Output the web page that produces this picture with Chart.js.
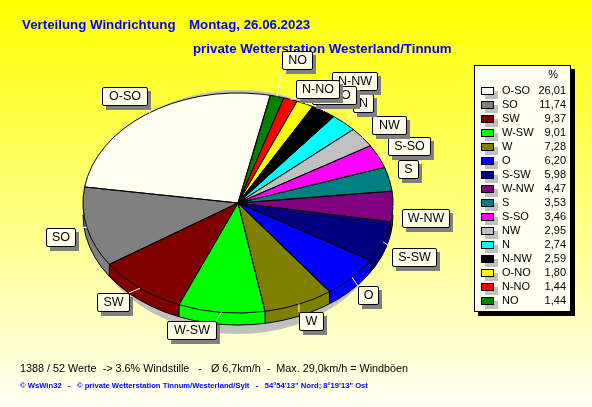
<!DOCTYPE html>
<html>
<head>
<meta charset="utf-8">
<title>Verteilung Windrichtung</title>
<script src="https://cdn.jsdelivr.net/npm/chart.js@4"></script>
<style>
    html, body { margin: 0; padding: 0; }
    body { width: 592px; height: 407px; overflow: hidden; background: linear-gradient(180deg, #ffff00 0%, #fffff5 100%); }
    canvas { display: block; }
</style>
</head>
<body>
<canvas id="myChart" width="592" height="407"></canvas>
<script>
// values as in the legend, largest first
const directions = ['O-SO', 'SO', 'SW', 'W-SW', 'W', 'O', 'S-SW', 'W-NW', 'S', 'S-SO', 'NW', 'N', 'N-NW', 'O-NO', 'N-NO', 'NO'];
const percents = [26.01, 11.74, 9.37, 9.01, 7.28, 6.20, 5.98, 4.47, 3.53, 3.46, 2.95, 2.74, 2.59, 1.80, 1.44, 1.44];
const colors = ['#fffff2', '#808080', '#800000', '#00ff00', '#808000', '#0000ff', '#000080', '#800080', '#008080', '#ff00ff', '#c0c0c0', '#00ffff', '#000000', '#ffff00', '#ff0000', '#008000'];

const titleLine1 = 'Verteilung Windrichtung';
const titleDate = 'Montag, 26.06.2023';
const titleLine2 = 'private Wetterstation Westerland/Tinnum';
const infoLine = '1388 / 52 Werte  -> 3.6% Windstille   -   Ø 6,7km/h  -  Max. 29,0km/h = Windböen';
const footerLine = '© WsWin32   -   © private Wetterstation Tinnum/Westerland/Sylt   -   54°54\'13" Nord; 8°19\'13" Ost';

// the pie runs the other way round than the legend
const pieLabels = [...directions].reverse();
const pieValues = [...percents].reverse();
const pieColors = [...colors].reverse();

const FONT = '"Liberation Sans", Arial, sans-serif';
const squash = 0.71;    // pie seen from an angle
const depth = 12;       // height of the pie rim
const centerY = 203;

// left, top, width of the callout boxes
const boxes = {
    'O-SO': [102, 87, 45], 'SO': [46, 228, 29], 'SW': [97, 293, 32], 'W-SW': [167, 321, 49],
    'W': [299, 312, 24], 'O': [358, 286, 20], 'S-SW': [392, 248, 44], 'W-NW': [402, 209, 47],
    'S': [398, 160, 20], 'S-SO': [388, 137, 42], 'NW': [372, 116, 34], 'N': [353, 94, 20],
    'N-NW': [332, 72, 45], 'O-NO': [312, 86, 44], 'N-NO': [296, 80, 43], 'NO': [282, 51, 30]
};

function squashed(ctx, arc, down) {
    ctx.translate(0, centerY + down);
    ctx.scale(1, squash);
    ctx.translate(0, -arc.y);
}

function sector(ctx, arc, down) {
    ctx.save();
    squashed(ctx, arc, down);
    ctx.beginPath();
    ctx.moveTo(arc.x, arc.y);
    ctx.arc(arc.x, arc.y, arc.outerRadius, arc.startAngle, arc.endAngle);
    ctx.closePath();
    ctx.restore();
}

const piePlugin = {
    id: 'pie3d',
    beforeDatasetDraw(chart) {
        const ctx = chart.ctx;
        const arcs = chart.getDatasetMeta(0).data;
        const first = arcs[0];
        const R = first.outerRadius;

        // shadow below the pie
        ctx.fillStyle = '#c0c0c0';
        ctx.beginPath();
        ctx.ellipse(first.x, centerY + 9, R - 3, 122, 0, 0, Math.PI * 2);
        ctx.fill();

        // rim
        for (let d = depth; d > 0; d--) {
            arcs.forEach((arc, i) => {
                ctx.fillStyle = pieColors[i];
                sector(ctx, arc, d);
                ctx.fill();
            });
        }
        ctx.strokeStyle = '#000';
        ctx.lineWidth = 1;
        ctx.beginPath();
        ctx.ellipse(first.x, centerY + depth, R, R * squash, 0, 0, Math.PI);
        ctx.stroke();
        arcs.forEach(arc => {
            if (Math.sin(arc.startAngle) > 0) {
                const px = arc.x + R * Math.cos(arc.startAngle);
                const py = centerY + R * squash * Math.sin(arc.startAngle);
                ctx.beginPath();
                ctx.moveTo(px, py);
                ctx.lineTo(px, py + depth);
                ctx.stroke();
            }
        });

        ctx.save();
        squashed(ctx, first, 0);
    },
    afterDatasetDraw(chart) {
        const ctx = chart.ctx;
        const arcs = chart.getDatasetMeta(0).data;
        ctx.restore();

        ctx.strokeStyle = '#000';
        ctx.lineWidth = 1;
        arcs.forEach(arc => {
            sector(ctx, arc, 0);
            ctx.stroke();
        });
    },
    afterDraw(chart) {
        const ctx = chart.ctx;
        const arcs = chart.getDatasetMeta(0).data;
        ctx.save();
        ctx.textBaseline = 'middle';

        // titles
        ctx.fillStyle = '#0000ff';
        ctx.font = 'bold 13.3px ' + FONT;
        ctx.fillText(titleLine1, 22, 25);
        ctx.fillText(titleDate, 189, 25);
        ctx.fillText(titleLine2, 193, 49);

        // white leaders from the rim to the nearest point of the box
        ctx.strokeStyle = '#fff';
        ctx.lineWidth = 1;
        directions.forEach(name => {
            const arc = arcs[pieLabels.indexOf(name)];
            const mid = (arc.startAngle + arc.endAngle) / 2;
            const b = boxes[name];
            const rimX = arc.x + arc.outerRadius * Math.cos(mid);
            const rimY = centerY + arc.outerRadius * squash * Math.sin(mid);
            ctx.beginPath();
            ctx.moveTo(rimX, rimY);
            ctx.lineTo(Math.min(Math.max(rimX, b[0]), b[0] + b[2]), Math.min(Math.max(rimY, b[1]), b[1] + 18));
            ctx.stroke();
        });

        // callout boxes
        ctx.font = '12.5px ' + FONT;
        ctx.textAlign = 'center';
        directions.forEach(name => {
            const b = boxes[name];
            ctx.fillStyle = '#808080';
            ctx.fillRect(b[0] + 4, b[1] + 4, b[2], 19);
            ctx.fillStyle = '#ffffe8';
            ctx.strokeStyle = '#000';
            ctx.beginPath();
            ctx.roundRect(b[0] + 0.5, b[1] + 0.5, b[2], 18, 1.5);
            ctx.fill();
            ctx.stroke();
            ctx.fillStyle = '#000';
            ctx.fillText(name, b[0] + b[2] / 2 + 0.5, b[1] + 10);
        });

        // legend table
        ctx.fillStyle = '#000';
        ctx.fillRect(478, 69, 97, 247);
        ctx.fillStyle = '#fffff2';
        ctx.fillRect(474, 65, 97, 247);
        ctx.strokeStyle = '#000';
        ctx.strokeRect(474.5, 65.5, 96, 246);
        ctx.font = '11px ' + FONT;
        ctx.fillStyle = '#000';
        ctx.textAlign = 'right';
        ctx.fillText('%', 558, 75);
        directions.forEach((name, i) => {
            const y = 91 + i * 14.03;
            const top = Math.round(y - 4);
            ctx.fillStyle = '#c0c0c0';
            ctx.fillRect(485, top + 4, 13, 8);
            ctx.fillStyle = colors[i];
            ctx.fillRect(481, top, 13, 8);
            ctx.strokeStyle = '#000';
            ctx.strokeRect(481.5, top + 0.5, 12, 7);
            ctx.fillStyle = '#000';
            ctx.textAlign = 'left';
            ctx.fillText(name, 502, y);
            ctx.textAlign = 'right';
            ctx.fillText(percents[i].toFixed(2).replace('.', ','), 566, y);
        });

        // lines at the bottom
        ctx.textAlign = 'left';
        ctx.fillStyle = '#000';
        ctx.font = '10.8px ' + FONT;
        ctx.fillText(infoLine, 20, 369);
        ctx.fillStyle = '#0000ff';
        ctx.font = 'bold 7.65px ' + FONT;
        ctx.fillText(footerLine, 20, 386);
        ctx.restore();
    }
};

const data = {
    labels: pieLabels,
    datasets: [{
        data: pieValues,
        backgroundColor: pieColors,
        borderWidth: 0
    }]
};

const config = {
    type: 'pie',
    data: data,
    options: {
        responsive: false,
        animation: false,
        rotation: 12,
        layout: { padding: { left: 83, right: 199, top: 48, bottom: 49 } },
        plugins: { legend: { display: false }, title: { display: false }, tooltip: { enabled: false } }
    },
    plugins: [piePlugin]
};

const myChart = new Chart(document.getElementById('myChart'), config);
</script>
</body>
</html>
